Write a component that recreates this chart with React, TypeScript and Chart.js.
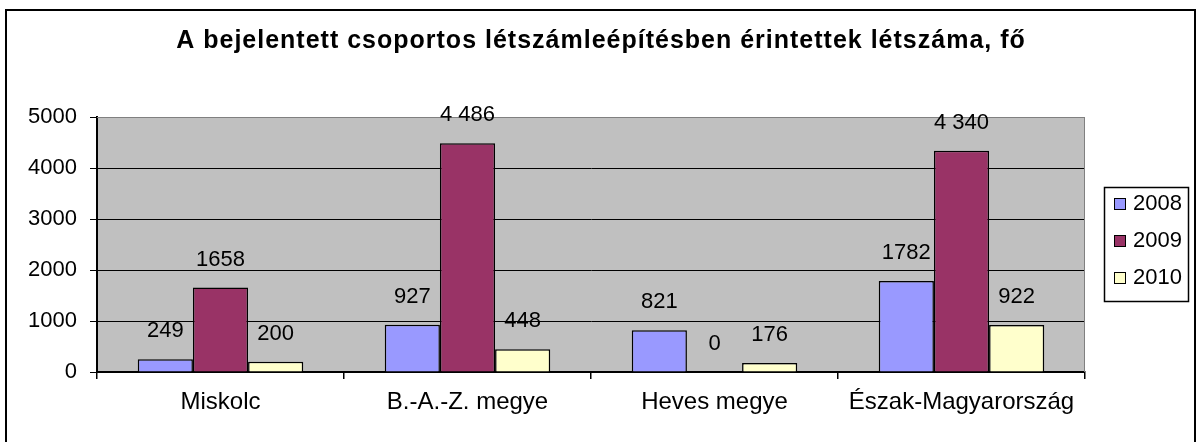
import React, { useEffect, useRef } from "react";
import { Chart, registerables } from "chart.js";

Chart.register(...registerables);

const TITLE = "A bejelentett csoportos létszámleépítésben érintettek létszáma, fő";
const categories = ["Miskolc", "B.-A.-Z. megye", "Heves megye", "Észak-Magyarország"];
const seriesNames = ["2008", "2009", "2010"];
const values2008 = [249, 927, 821, 1782];
const values2009 = [1658, 4486, 0, 4340];
const values2010 = [200, 448, 176, 922];
const labels2008 = ["249", "927", "821", "1782"];
const labels2009 = ["1658", "4 486", "0", "4 340"];
const labels2010 = ["200", "448", "176", "922"];
const colors = ["#9999FF", "#993366", "#FFFFCC"];
const yTicks = [0, 1000, 2000, 3000, 4000, 5000];

const FONT = '"Liberation Sans", Arial, sans-serif';

export default function App() {
  const ref = useRef<HTMLCanvasElement | null>(null);

  useEffect(() => {
    const canvas = ref.current;
    if (!canvas) return;
    const labelSets = [labels2008, labels2009, labels2010];

    const decor = {
      id: "decor",
      beforeDraw(chart: any) {
        const ctx = chart.ctx;
        const a = chart.chartArea;
        ctx.save();
        ctx.fillStyle = "#FFFFFF";
        ctx.fillRect(0, 0, chart.width, chart.height);
        ctx.strokeStyle = "#000";
        ctx.lineWidth = 2;
        ctx.strokeRect(6, 10, 1189, 445);
        ctx.fillStyle = "#000";
        ctx.font = `bold 25px ${FONT}`;
        (ctx as any).letterSpacing = "1px";
        ctx.textAlign = "center";
        ctx.textBaseline = "alphabetic";
        ctx.fillText(TITLE, 601, 48);
        (ctx as any).letterSpacing = "0px";
        ctx.fillStyle = "#C0C0C0";
        ctx.fillRect(a.left, a.top, a.right - a.left, a.bottom - a.top);
        ctx.restore();
      },
      beforeDatasetsDraw(chart: any) {
        const ctx = chart.ctx;
        const a = chart.chartArea;
        ctx.save();
        ctx.strokeStyle = "#808080";
        ctx.lineWidth = 1;
        ctx.beginPath();
        ctx.moveTo(a.left, a.top + 0.5);
        ctx.lineTo(a.right - 0.5, a.top + 0.5);
        ctx.lineTo(a.right - 0.5, a.bottom);
        ctx.stroke();
        ctx.restore();
      },
      afterDatasetsDraw(chart: any) {
        const ctx = chart.ctx;
        ctx.save();
        ctx.fillStyle = "#000";
        ctx.font = `22px ${FONT}`;
        ctx.textAlign = "center";
        ctx.textBaseline = "middle";
        chart.data.datasets.forEach((ds: any, i: number) => {
          const meta = chart.getDatasetMeta(i);
          meta.data.forEach((bar: any, j: number) => {
            ctx.fillText(labelSets[i][j], bar.x, bar.y - 28);
          });
        });
        // legend
        ctx.strokeStyle = "#000";
        ctx.lineWidth = 1.5;
        ctx.fillStyle = "#FFFFFF";
        ctx.fillRect(1104.5, 187.5, 84, 114);
        ctx.strokeRect(1104.5, 187.5, 84, 114);
        ctx.lineWidth = 1;
        const rows = [204, 241, 278];
        chart.data.datasets.forEach((ds: any, i: number) => {
          const y = rows[i];
          ctx.fillStyle = ds.backgroundColor;
          ctx.fillRect(1114.5, y - 5.5, 11, 11);
          ctx.strokeRect(1114.5, y - 5.5, 11, 11);
          ctx.fillStyle = "#000";
          ctx.textAlign = "left";
          ctx.fillText(ds.label, 1133, y);
        });
        ctx.restore();
      },
    };

    const chart = new Chart(canvas, {
      type: "bar",
      data: {
        labels: categories,
        datasets: [values2008, values2009, values2010].map((d, i) => ({
          label: seriesNames[i],
          data: d,
          backgroundColor: colors[i],
          borderColor: "#000",
          borderWidth: 1.5,
          categoryPercentage: 0.67,
          barPercentage: 1,
        })),
      },
      options: {
        responsive: false,
        animation: false,
        devicePixelRatio: 1,
        layout: { padding: { top: 117, right: 113, bottom: 0, left: 0 } },
        plugins: {
          legend: { display: false },
          title: { display: false },
          tooltip: { enabled: false },
        },
        scales: {
          x: {
            afterFit: (s: any) => { s.height = 70; },
            grid: {
              offset: true,
              drawOnChartArea: false,
              color: "#000",
              tickLength: 7,
              lineWidth: 1.5,
            },
            border: { display: true, color: "#000", width: 2 },
            ticks: { color: "#000", font: { family: FONT, size: 24 }, padding: 9 },
          },
          y: {
            min: 0,
            max: 5000,
            afterFit: (s: any) => { s.width = 97; },
            afterBuildTicks: (s: any) => { s.ticks = yTicks.map((v) => ({ value: v })); },
            grid: {
              color: (c: any) => (c.tick && c.tick.value === 5000 ? "#808080" : "#000"),
              tickColor: "#000",
              tickLength: 7,
            },
            border: { display: true, color: "#000", width: 2 },
            ticks: {
              color: "#000",
              font: { family: FONT, size: 22 },
              padding: 13,
              callback: (v: any) => String(v),
            },
          },
        },
      },
      plugins: [decor],
    });
    return () => chart.destroy();
  }, []);

  return (
    <canvas
      ref={ref}
      width={1198}
      height={442}
      style={{ position: "fixed", left: 0, top: 0, width: 1198, height: 442 }}
    />
  );
}
